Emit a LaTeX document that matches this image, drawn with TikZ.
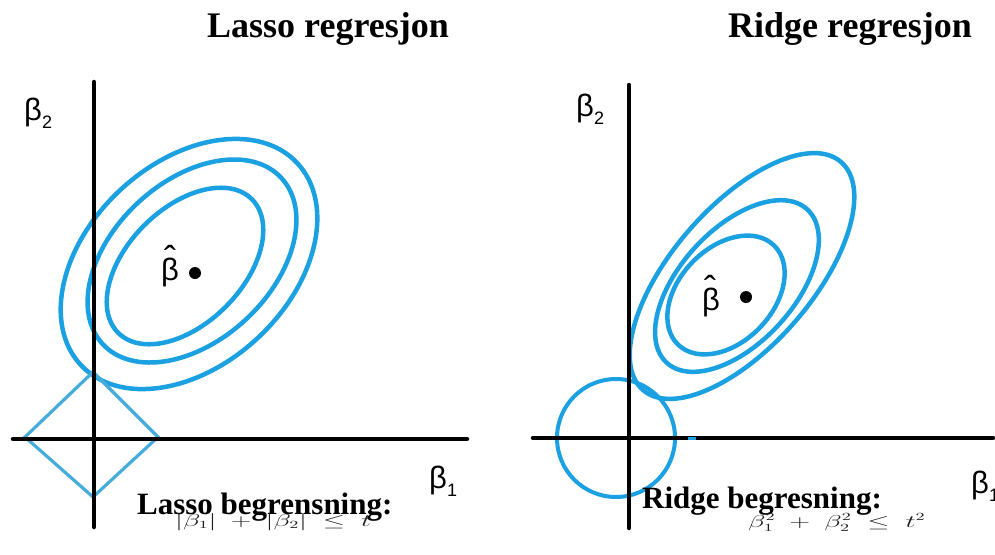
\documentclass[tikz,border=0pt]{standalone}
\usepackage[no-math]{fontspec}
\setmainfont{Liberation Serif}
\newfontfamily\betafont{Liberation Sans}
\usepackage{graphicx}
\definecolor{ellblue}{RGB}{27,160,225}
\definecolor{diablue}{RGB}{70,172,220}
\definecolor{formgrey}{RGB}{30,30,30}
\begin{document}
\begin{tikzpicture}[x=1pt,y=-1pt,
  axis/.style={line width=4.5pt, black, line cap=round},
  contour/.style={line width=4.5pt, ellblue},
  diamondline/.style={line width=3.2pt, diablue, line join=miter},
  titletext/.style={font=\fontsize{36}{40}\selectfont\bfseries, anchor=base, inner sep=0pt},
  subtext/.style={font=\fontsize{31}{34}\selectfont\bfseries, anchor=base west, inner sep=0pt},
  formtext/.style={text=formgrey, font=\fontsize{16}{18}\selectfont, anchor=base west, inner sep=0pt},
  blabel/.style={font=\betafont\fontsize{31}{33}\selectfont, anchor=base west, inner sep=0pt},
  hattext/.style={font=\betafont\fontsize{36}{38}\selectfont, anchor=north, inner sep=0pt},
  dot/.style={circle, fill=black, inner sep=0pt, minimum size=12pt}]
\useasboundingbox (0,0) rectangle (995,554);

% ---------------- Left panel: Lasso ----------------
\node[titletext] (Ltitle) at (328,37) {Lasso regresjon};

% contours
\coordinate (Lc1) at (189,264);
\coordinate (Lc2) at (192,261);
\coordinate (Lc3) at (185,266);
\draw[contour, rotate around={43:(Lc1)}] (Lc1) ellipse (148 and 101);
\draw[contour, rotate around={43:(Lc2)}] (Lc2) ellipse (122 and 79.5);
\draw[contour, rotate around={45:(Lc3)}] (Lc3) ellipse (94.5 and 57.6);

% diamond constraint
\coordinate (Dl) at (25,437);
\coordinate (Dt) at (93,372);
\coordinate (Dr) at (158,437);
\coordinate (Db) at (93,497);
\draw[diamondline] (Dl) -- (Dt) -- (Dr) -- (Db) -- cycle;

% axes
\coordinate (Ltop) at (94,82);
\coordinate (Lbot) at (94,527);
\coordinate (Lleft) at (13,439);
\coordinate (Lright) at (467,439);
\draw[axis] (Ltop) -- (Lbot);
\draw[axis] (Lleft) -- (Lright);

% labels
\node[blabel] (Lb2) at (24,120) {β\raisebox{-8pt}{\fontsize{18}{18}\selectfont 2}};
\node[blabel] (Lb1) at (429,488) {β\raisebox{-8pt}{\fontsize{18}{18}\selectfont 1}};
\node[blabel] (Lbh) at (161,280) {β};
\node[hattext] (Lhat) at (170,245) {ˆ};
\node[dot] (Ldot) at (195,273) {};

\node[subtext] (Lsub) at (137,514) {Lasso begrensning:};
\node[formtext] (Lform) at (175,526) {\scalebox{1.65}[1]{$|\beta_1| \;+\; |\beta_2| \;\leq\; t$}};

% ---------------- Right panel: Ridge ----------------
\node[titletext] (Rtitle) at (850,37) {Ridge regresjon};

\coordinate (Rc1) at (742,276);
\coordinate (Rc2) at (737,286);
\coordinate (Rc3) at (726,295);
\draw[contour, rotate around={49:(Rc1)}] (Rc1) ellipse (151 and 70);
\draw[contour, rotate around={47.5:(Rc2)}] (Rc2) ellipse (104 and 57);
\draw[contour, rotate around={46:(Rc3)}] (Rc3) ellipse (69 and 47);

% circle constraint
\coordinate (Cc) at (616,438);
\draw[contour, line width=4pt] (Cc) circle (59);

% axes
\coordinate (Rtop) at (629,85);
\coordinate (Rbot) at (629,528);
\coordinate (Rleft) at (533,438);
\coordinate (Rright) at (993,438);
\draw[axis] (Rtop) -- (Rbot);
\draw[axis] (Rleft) -- (Rright);

% small blue mark on the axis
\coordinate (Tk1) at (688,438);
\coordinate (Tk2) at (696,438);
\draw[ellblue, line width=3pt] (Tk1) -- (Tk2);

% labels
\node[blabel] (Rb2) at (576,116) {β\raisebox{-8pt}{\fontsize{18}{18}\selectfont 2}};
\node[blabel] (Rb1) at (971,493) {β\raisebox{-8pt}{\fontsize{18}{18}\selectfont 1}};
\node[blabel] (Rbh) at (702,310) {β};
\node[hattext] (Rhat) at (710,275) {ˆ};
\node[dot] (Rdot) at (746,297) {};

\node[subtext] (Rsub) at (642,508) {Ridge begresning:};
\node[formtext] (Rform) at (748,527) {\scalebox{1.65}[1]{$\beta_1^2 \;+\; \beta_2^2 \;\leq\; t^2$}};
\end{tikzpicture}
\end{document}
